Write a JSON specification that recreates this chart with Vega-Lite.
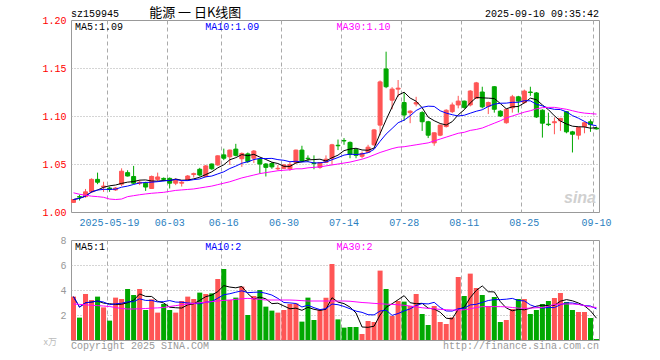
{
  "$schema": "https://vega.github.io/schema/vega-lite/v6.json",
  "autosize": {"type": "pad"},
  "padding": {"left": 41, "top": 6, "right": 5, "bottom": 5},
  "background": "white",
  "config": {
    "font": "Liberation Mono",
    "view": {"stroke": "#999999", "strokeWidth": 1},
    "axis": {"labelFont": "Liberation Mono", "labelFontSize": 10, "labelOverlap": false},
    "text": {"font": "Liberation Mono", "fontSize": 10}
  },
  "data": {"values": [
    {"d":"2025-05-09","o":1.010,"h":1.0135,"l":1.0095,"c":1.013,"v":3.47,"ma30":1.020,"vma30":2.88},
    {"d":"2025-05-12","o":1.016,"h":1.018,"l":1.012,"c":1.0155,"v":1.79,"ma30":1.0185,"vma30":2.85},
    {"d":"2025-05-13","o":1.016,"h":1.024,"l":1.015,"c":1.021,"v":3.68,"ma30":1.0175,"vma30":2.82},
    {"d":"2025-05-14","o":1.021,"h":1.035,"l":1.020,"c":1.034,"v":3.2,"ma30":1.0165,"vma30":2.78},
    {"d":"2025-05-15","o":1.034,"h":1.041,"l":1.029,"c":1.031,"v":3.47,"ma30":1.016,"vma30":2.75},
    {"d":"2025-05-16","o":1.026,"h":1.0315,"l":1.021,"c":1.027,"v":2.61,"ma30":1.0153,"vma30":2.72},
    {"d":"2025-05-19","o":1.025,"h":1.0265,"l":1.021,"c":1.0235,"v":1.55,"ma30":1.0135,"vma30":2.68},
    {"d":"2025-05-20","o":1.023,"h":1.026,"l":1.022,"c":1.025,"v":3.39,"ma30":1.013,"vma30":2.6},
    {"d":"2025-05-21","o":1.029,"h":1.0455,"l":1.027,"c":1.0425,"v":3.28,"ma30":1.0135,"vma30":2.52},
    {"d":"2025-05-22","o":1.041,"h":1.0435,"l":1.037,"c":1.0375,"v":4.08,"ma30":1.016,"vma30":2.48},
    {"d":"2025-05-23","o":1.037,"h":1.048,"l":1.029,"c":1.030,"v":3.6,"ma30":1.017,"vma30":2.48},
    {"d":"2025-05-26","o":1.030,"h":1.033,"l":1.028,"c":1.031,"v":4.08,"ma30":1.018,"vma30":2.5},
    {"d":"2025-05-27","o":1.030,"h":1.0315,"l":1.022,"c":1.026,"v":2.4,"ma30":1.0188,"vma30":2.52},
    {"d":"2025-05-28","o":1.0245,"h":1.038,"l":1.024,"c":1.037,"v":3.25,"ma30":1.0195,"vma30":2.55},
    {"d":"2025-05-29","o":1.034,"h":1.041,"l":1.032,"c":1.0365,"v":2.19,"ma30":1.020,"vma30":2.57},
    {"d":"2025-05-30","o":1.035,"h":1.036,"l":1.032,"c":1.034,"v":2.88,"ma30":1.0205,"vma30":2.6},
    {"d":"2025-06-03","o":1.035,"h":1.036,"l":1.0245,"c":1.030,"v":2.4,"ma30":1.0215,"vma30":2.68},
    {"d":"2025-06-04","o":1.030,"h":1.035,"l":1.028,"c":1.034,"v":2.19,"ma30":1.0225,"vma30":2.75},
    {"d":"2025-06-05","o":1.030,"h":1.0325,"l":1.0265,"c":1.031,"v":3.12,"ma30":1.023,"vma30":2.82},
    {"d":"2025-06-06","o":1.0335,"h":1.0385,"l":1.033,"c":1.0375,"v":3.47,"ma30":1.0235,"vma30":2.88},
    {"d":"2025-06-09","o":1.039,"h":1.041,"l":1.036,"c":1.040,"v":3.28,"ma30":1.024,"vma30":2.93},
    {"d":"2025-06-10","o":1.0445,"h":1.046,"l":1.037,"c":1.0385,"v":3.79,"ma30":1.025,"vma30":2.98},
    {"d":"2025-06-11","o":1.037,"h":1.049,"l":1.036,"c":1.048,"v":3.68,"ma30":1.026,"vma30":3.02},
    {"d":"2025-06-12","o":1.050,"h":1.0505,"l":1.044,"c":1.045,"v":3.73,"ma30":1.027,"vma30":3.07},
    {"d":"2025-06-13","o":1.049,"h":1.059,"l":1.048,"c":1.0585,"v":4.88,"ma30":1.0285,"vma30":3.12},
    {"d":"2025-06-16","o":1.0595,"h":1.066,"l":1.054,"c":1.056,"v":5.68,"ma30":1.030,"vma30":3.17},
    {"d":"2025-06-17","o":1.0575,"h":1.065,"l":1.049,"c":1.0645,"v":3.2,"ma30":1.0315,"vma30":3.2},
    {"d":"2025-06-18","o":1.0655,"h":1.071,"l":1.058,"c":1.059,"v":3.39,"ma30":1.0335,"vma30":3.25},
    {"d":"2025-06-19","o":1.0555,"h":1.062,"l":1.047,"c":1.061,"v":4.27,"ma30":1.0355,"vma30":3.3},
    {"d":"2025-06-20","o":1.0605,"h":1.062,"l":1.051,"c":1.0525,"v":2.0,"ma30":1.037,"vma30":3.33},
    {"d":"2025-06-23","o":1.056,"h":1.0645,"l":1.051,"c":1.0635,"v":3.52,"ma30":1.0385,"vma30":3.3},
    {"d":"2025-06-24","o":1.055,"h":1.056,"l":1.040,"c":1.050,"v":4.0,"ma30":1.040,"vma30":3.25},
    {"d":"2025-06-25","o":1.050,"h":1.051,"l":1.037,"c":1.0465,"v":2.67,"ma30":1.041,"vma30":3.2},
    {"d":"2025-06-26","o":1.0505,"h":1.052,"l":1.045,"c":1.047,"v":2.35,"ma30":1.042,"vma30":3.2},
    {"d":"2025-06-27","o":1.045,"h":1.049,"l":1.0435,"c":1.0455,"v":2.19,"ma30":1.043,"vma30":3.2},
    {"d":"2025-06-30","o":1.0455,"h":1.050,"l":1.045,"c":1.049,"v":2.4,"ma30":1.0435,"vma30":3.2},
    {"d":"2025-07-01","o":1.045,"h":1.0525,"l":1.043,"c":1.0495,"v":2.88,"ma30":1.044,"vma30":3.2},
    {"d":"2025-07-02","o":1.0515,"h":1.065,"l":1.050,"c":1.0645,"v":2.93,"ma30":1.045,"vma30":3.18},
    {"d":"2025-07-03","o":1.0645,"h":1.069,"l":1.052,"c":1.053,"v":1.47,"ma30":1.045,"vma30":3.15},
    {"d":"2025-07-04","o":1.056,"h":1.059,"l":1.052,"c":1.0555,"v":3.39,"ma30":1.046,"vma30":3.12},
    {"d":"2025-07-07","o":1.051,"h":1.059,"l":1.0445,"c":1.0505,"v":1.6,"ma30":1.0465,"vma30":3.12},
    {"d":"2025-07-08","o":1.0465,"h":1.052,"l":1.045,"c":1.0515,"v":2.45,"ma30":1.047,"vma30":3.12},
    {"d":"2025-07-09","o":1.0515,"h":1.059,"l":1.051,"c":1.055,"v":3.39,"ma30":1.048,"vma30":3.12},
    {"d":"2025-07-10","o":1.056,"h":1.071,"l":1.049,"c":1.070,"v":6.08,"ma30":1.049,"vma30":3.12},
    {"d":"2025-07-11","o":1.0695,"h":1.0755,"l":1.0645,"c":1.069,"v":1.65,"ma30":1.050,"vma30":3.12},
    {"d":"2025-07-14","o":1.0745,"h":1.077,"l":1.070,"c":1.074,"v":0.99,"ma30":1.051,"vma30":3.12},
    {"d":"2025-07-15","o":1.0725,"h":1.0735,"l":1.056,"c":1.060,"v":1.04,"ma30":1.052,"vma30":3.1},
    {"d":"2025-07-16","o":1.065,"h":1.066,"l":1.056,"c":1.059,"v":1.04,"ma30":1.0535,"vma30":3.05},
    {"d":"2025-07-17","o":1.058,"h":1.063,"l":1.056,"c":1.061,"v":0.48,"ma30":1.055,"vma30":3.0},
    {"d":"2025-07-18","o":1.062,"h":1.070,"l":1.0615,"c":1.0675,"v":1.52,"ma30":1.057,"vma30":2.97},
    {"d":"2025-07-21","o":1.070,"h":1.0865,"l":1.069,"c":1.0855,"v":1.44,"ma30":1.0595,"vma30":2.93},
    {"d":"2025-07-22","o":1.0905,"h":1.137,"l":1.080,"c":1.1355,"v":5.55,"ma30":1.062,"vma30":2.9},
    {"d":"2025-07-23","o":1.149,"h":1.167,"l":1.129,"c":1.1305,"v":4.08,"ma30":1.064,"vma30":2.87},
    {"d":"2025-07-24","o":1.1165,"h":1.130,"l":1.107,"c":1.128,"v":1.92,"ma30":1.066,"vma30":2.85},
    {"d":"2025-07-25","o":1.128,"h":1.1375,"l":1.120,"c":1.129,"v":3.12,"ma30":1.0675,"vma30":2.82},
    {"d":"2025-07-28","o":1.114,"h":1.124,"l":1.095,"c":1.101,"v":3.07,"ma30":1.068,"vma30":2.78},
    {"d":"2025-07-29","o":1.1035,"h":1.106,"l":1.0925,"c":1.105,"v":2.72,"ma30":1.069,"vma30":2.72},
    {"d":"2025-07-30","o":1.1125,"h":1.120,"l":1.110,"c":1.114,"v":3.68,"ma30":1.070,"vma30":2.65},
    {"d":"2025-07-31","o":1.1035,"h":1.105,"l":1.0845,"c":1.094,"v":2.08,"ma30":1.071,"vma30":2.58},
    {"d":"2025-08-01","o":1.094,"h":1.095,"l":1.077,"c":1.080,"v":1.2,"ma30":1.072,"vma30":2.53},
    {"d":"2025-08-04","o":1.072,"h":1.083,"l":1.069,"c":1.0825,"v":2.72,"ma30":1.074,"vma30":2.5},
    {"d":"2025-08-05","o":1.080,"h":1.091,"l":1.079,"c":1.0905,"v":1.44,"ma30":1.076,"vma30":2.45},
    {"d":"2025-08-06","o":1.089,"h":1.107,"l":1.088,"c":1.106,"v":1.28,"ma30":1.078,"vma30":2.42},
    {"d":"2025-08-07","o":1.1045,"h":1.114,"l":1.103,"c":1.1115,"v":1.81,"ma30":1.080,"vma30":2.4},
    {"d":"2025-08-08","o":1.1115,"h":1.121,"l":1.108,"c":1.1155,"v":5.04,"ma30":1.082,"vma30":2.4},
    {"d":"2025-08-11","o":1.1155,"h":1.116,"l":1.1075,"c":1.109,"v":3.52,"ma30":1.083,"vma30":2.42},
    {"d":"2025-08-12","o":1.1115,"h":1.127,"l":1.110,"c":1.126,"v":5.31,"ma30":1.085,"vma30":2.5},
    {"d":"2025-08-13","o":1.1185,"h":1.1355,"l":1.118,"c":1.1345,"v":4.16,"ma30":1.086,"vma30":2.6},
    {"d":"2025-08-14","o":1.125,"h":1.1305,"l":1.108,"c":1.1095,"v":3.6,"ma30":1.0875,"vma30":2.67},
    {"d":"2025-08-15","o":1.110,"h":1.115,"l":1.102,"c":1.114,"v":2.72,"ma30":1.090,"vma30":2.67},
    {"d":"2025-08-18","o":1.1305,"h":1.131,"l":1.1035,"c":1.107,"v":3.44,"ma30":1.0925,"vma30":2.67},
    {"d":"2025-08-19","o":1.105,"h":1.106,"l":1.099,"c":1.100,"v":1.44,"ma30":1.095,"vma30":2.67},
    {"d":"2025-08-20","o":1.093,"h":1.108,"l":1.092,"c":1.107,"v":1.6,"ma30":1.098,"vma30":2.65},
    {"d":"2025-08-21","o":1.1085,"h":1.122,"l":1.1035,"c":1.120,"v":2.48,"ma30":1.100,"vma30":2.6},
    {"d":"2025-08-22","o":1.120,"h":1.121,"l":1.1035,"c":1.1155,"v":3.28,"ma30":1.102,"vma30":2.55},
    {"d":"2025-08-25","o":1.114,"h":1.1275,"l":1.113,"c":1.126,"v":3.28,"ma30":1.104,"vma30":2.53},
    {"d":"2025-08-26","o":1.125,"h":1.1305,"l":1.121,"c":1.1245,"v":2.08,"ma30":1.1055,"vma30":2.55},
    {"d":"2025-08-27","o":1.124,"h":1.125,"l":1.098,"c":1.099,"v":2.4,"ma30":1.1075,"vma30":2.58},
    {"d":"2025-08-28","o":1.106,"h":1.107,"l":1.0775,"c":1.0925,"v":2.88,"ma30":1.1087,"vma30":2.6},
    {"d":"2025-08-29","o":1.0915,"h":1.1035,"l":1.0895,"c":1.091,"v":3.12,"ma30":1.109,"vma30":2.7},
    {"d":"2025-09-01","o":1.093,"h":1.0985,"l":1.081,"c":1.094,"v":3.36,"ma30":1.109,"vma30":2.85},
    {"d":"2025-09-02","o":1.095,"h":1.098,"l":1.0845,"c":1.0975,"v":3.76,"ma30":1.108,"vma30":2.88},
    {"d":"2025-09-03","o":1.1045,"h":1.105,"l":1.082,"c":1.0835,"v":3.04,"ma30":1.107,"vma30":2.88},
    {"d":"2025-09-04","o":1.0835,"h":1.0845,"l":1.062,"c":1.081,"v":2.4,"ma30":1.1055,"vma30":2.88},
    {"d":"2025-09-05","o":1.080,"h":1.089,"l":1.0755,"c":1.088,"v":2.24,"ma30":1.104,"vma30":2.85},
    {"d":"2025-09-08","o":1.089,"h":1.094,"l":1.082,"c":1.093,"v":2.24,"ma30":1.103,"vma30":2.75},
    {"d":"2025-09-09","o":1.094,"h":1.0965,"l":1.0835,"c":1.091,"v":1.76,"ma30":1.1025,"vma30":2.65},
    {"d":"2025-09-10","o":1.0875,"h":1.089,"l":1.086,"c":1.0865,"v":0.08,"ma30":1.102,"vma30":2.6}
  ]},
  "transform": [
    {"window": [{"op": "mean", "field": "c", "as": "ma5"}, {"op": "mean", "field": "v", "as": "vma5"}], "frame": [-4, 0], "sort": [{"field": "d"}]},
    {"window": [{"op": "mean", "field": "c", "as": "ma10"}, {"op": "mean", "field": "v", "as": "vma10"}], "frame": [-9, 0], "sort": [{"field": "d"}]}
  ],
  "spacing": 28,
  "bounds": "flush",
  "vconcat": [
    {
      "width": 528,
      "height": 192,
      "encoding": {
        "x": {
          "field": "d", "type": "ordinal",
          "scale": {"paddingInner": 0.1667, "paddingOuter": 0},
          "axis": {
            "values": ["2025-05-19","2025-06-03","2025-06-16","2025-06-30","2025-07-14","2025-07-28","2025-08-11","2025-08-25","2025-09-10"],
            "labelExpr": "datum.value == '2025-05-19' ? datum.value : substring(datum.value, 5, 10)",
            "bandPosition": 0, "grid": true, "gridDash": [4, 3], "gridColor": "#aaaaaa",
            "ticks": false, "domain": false, "labelAngle": 0, "labelColor": "#2a80c0",
            "labelPadding": 5, "title": null
          }
        }
      },
      "layer": [
        {
          "mark": {"type": "rule", "strokeWidth": 1},
          "encoding": {
            "y": {
              "field": "l", "type": "quantitative",
              "scale": {"domain": [1, 1.2], "nice": false, "zero": false},
              "axis": {
                "values": [1, 1.05, 1.1, 1.15, 1.2], "format": ".2f", "labelColor": "#ff0000",
                "grid": true, "gridDash": [1, 2], "gridColor": "#aaaaaa",
                "gridOpacity": {"condition": {"test": "datum.value <= 1.001 || datum.value >= 1.199", "value": 0}, "value": 1},
                "ticks": false, "domain": false, "title": null, "labelPadding": 5, "labelOverlap": false
              }
            },
            "y2": {"field": "h"},
            "color": {"condition": {"test": "datum.c >= datum.o", "value": "#ff5555"}, "value": "#00a800"}
          }
        },
        {
          "mark": {"type": "bar", "width": {"band": 0.8}, "strokeWidth": 1},
          "encoding": {
            "y": {"field": "o", "type": "quantitative"},
            "y2": {"field": "c"},
            "color": {"condition": {"test": "datum.c >= datum.o", "value": "#ff5555"}, "value": "#00a800"},
            "stroke": {"condition": {"test": "datum.c >= datum.o", "value": "#ff5555"}, "value": "#00a800"}
          }
        },
        {"mark": {"type": "line", "color": "#000000", "strokeWidth": 1}, "encoding": {"y": {"field": "ma5", "type": "quantitative"}}},
        {"mark": {"type": "line", "color": "#0000ff", "strokeWidth": 1}, "encoding": {"y": {"field": "ma10", "type": "quantitative"}}},
        {"mark": {"type": "line", "color": "#ff00ff", "strokeWidth": 1}, "encoding": {"y": {"field": "ma30", "type": "quantitative"}}},
        {
          "data": {"values": [{"t": "MA5:1.09"}]},
          "mark": {"type": "text", "align": "left", "baseline": "alphabetic", "dx": 4, "color": "#000000"},
          "encoding": {"x": {"datum": "2025-05-09", "type": "ordinal", "bandPosition": 0}, "y": {"datum": 1.1901, "type": "quantitative"}, "text": {"field": "t"}}
        },
        {
          "data": {"values": [{"t": "MA10:1.09"}]},
          "mark": {"type": "text", "align": "left", "baseline": "alphabetic", "dx": 2, "color": "#0000ff"},
          "encoding": {"x": {"datum": "2025-06-11", "type": "ordinal", "bandPosition": 0}, "y": {"datum": 1.1901, "type": "quantitative"}, "text": {"field": "t"}}
        },
        {
          "data": {"values": [{"t": "MA30:1.10"}]},
          "mark": {"type": "text", "align": "left", "baseline": "alphabetic", "dx": 1, "color": "#ff00ff"},
          "encoding": {"x": {"datum": "2025-07-11", "type": "ordinal", "bandPosition": 0}, "y": {"datum": 1.1901, "type": "quantitative"}, "text": {"field": "t"}}
        },
        {
          "data": {"values": [{"t": "sz159945"}]},
          "mark": {"type": "text", "align": "left", "baseline": "alphabetic", "color": "#000000"},
          "encoding": {"x": {"datum": "2025-05-09", "type": "ordinal", "bandPosition": 0}, "y": {"datum": 1.2036, "type": "quantitative"}, "text": {"field": "t"}}
        },
        {
          "data": {"values": [{"t": "能源 一 日K线图"}]},
          "mark": {"type": "text", "align": "left", "baseline": "middle", "font": "Noto Sans CJK SC", "fontSize": 13, "color": "#000000"},
          "encoding": {"x": {"datum": "2025-05-28", "type": "ordinal", "bandPosition": 0}, "y": {"datum": 1.2075, "type": "quantitative"}, "text": {"field": "t"}}
        },
        {
          "data": {"values": [{"t": "2025-09-10 09:35:42"}]},
          "mark": {"type": "text", "align": "right", "baseline": "alphabetic", "color": "#000000"},
          "encoding": {"x": {"datum": "2025-09-10", "type": "ordinal", "bandPosition": 1}, "y": {"datum": 1.2036, "type": "quantitative"}, "text": {"field": "t"}}
        },
        {
          "data": {"values": [{"t": "sina"}]},
          "mark": {"type": "text", "align": "right", "baseline": "alphabetic", "font": "Liberation Sans", "fontSize": 16, "fontWeight": "bold", "fontStyle": "italic", "dx": -3, "color": "#d0d0d0"},
          "encoding": {"x": {"datum": "2025-09-10", "type": "ordinal", "bandPosition": 1}, "y": {"datum": 1.0094, "type": "quantitative"}, "text": {"field": "t"}}
        }
      ]
    },
    {
      "width": 528,
      "height": 100,
      "encoding": {
        "x": {
          "field": "d", "type": "ordinal",
          "scale": {"paddingInner": 0.1667, "paddingOuter": 0},
          "axis": {
            "values": ["2025-05-19","2025-06-03","2025-06-16","2025-06-30","2025-07-14","2025-07-28","2025-08-11","2025-08-25","2025-09-10"],
            "bandPosition": 0, "grid": true, "gridDash": [4, 3], "gridColor": "#aaaaaa",
            "labels": false, "ticks": false, "domain": false, "title": null
          }
        }
      },
      "layer": [
        {
          "mark": {"type": "bar"},
          "encoding": {
            "y": {
              "field": "v", "type": "quantitative",
              "scale": {"domain": [0, 8], "nice": false},
              "axis": {
                "tickCount": 4, "labelExpr": "datum.value == 0 ? '' : datum.label", "labelColor": "#999999",
                "grid": true, "gridDash": [1, 2], "gridColor": "#aaaaaa",
                "gridOpacity": {"condition": {"test": "datum.value >= 7.9 || datum.value <= 0.1", "value": 0}, "value": 1},
                "ticks": false, "domain": false, "title": null, "labelPadding": 5,
                "labelOverlap": false, "labelBound": false, "labelFlush": false
              }
            },
            "color": {"condition": {"test": "datum.c >= datum.o", "value": "#ff5555"}, "value": "#00a800"}
          }
        },
        {"mark": {"type": "line", "color": "#000000", "strokeWidth": 1}, "encoding": {"y": {"field": "vma5", "type": "quantitative"}}},
        {"mark": {"type": "line", "color": "#0000ff", "strokeWidth": 1}, "encoding": {"y": {"field": "vma10", "type": "quantitative"}}},
        {"mark": {"type": "line", "color": "#ff00ff", "strokeWidth": 1}, "encoding": {"y": {"field": "vma30", "type": "quantitative"}}},
        {
          "data": {"values": [{"t": "MA5:1"}]},
          "mark": {"type": "text", "align": "left", "baseline": "alphabetic", "dx": 4, "color": "#000000"},
          "encoding": {"x": {"datum": "2025-05-09", "type": "ordinal", "bandPosition": 0}, "y": {"datum": 7.24, "type": "quantitative"}, "text": {"field": "t"}}
        },
        {
          "data": {"values": [{"t": "MA10:2"}]},
          "mark": {"type": "text", "align": "left", "baseline": "alphabetic", "dx": 2, "color": "#0000ff"},
          "encoding": {"x": {"datum": "2025-06-11", "type": "ordinal", "bandPosition": 0}, "y": {"datum": 7.24, "type": "quantitative"}, "text": {"field": "t"}}
        },
        {
          "data": {"values": [{"t": "MA30:2"}]},
          "mark": {"type": "text", "align": "left", "baseline": "alphabetic", "dx": 1, "color": "#ff00ff"},
          "encoding": {"x": {"datum": "2025-07-11", "type": "ordinal", "bandPosition": 0}, "y": {"datum": 7.24, "type": "quantitative"}, "text": {"field": "t"}}
        },
        {
          "data": {"values": [{"t": "x万"}]},
          "mark": {"type": "text", "align": "right", "baseline": "middle", "font": "Noto Sans CJK SC", "fontSize": 9, "dx": -14, "color": "#bbbbbb"},
          "encoding": {"x": {"datum": "2025-05-09", "type": "ordinal", "bandPosition": 0}, "y": {"datum": -0.16, "type": "quantitative"}, "text": {"field": "t"}}
        },
        {
          "data": {"values": [{"t": "Copyright 2025 SINA.COM"}]},
          "mark": {"type": "text", "align": "left", "baseline": "alphabetic", "color": "#999999"},
          "encoding": {"x": {"datum": "2025-05-09", "type": "ordinal", "bandPosition": 0}, "y": {"datum": -0.72, "type": "quantitative"}, "text": {"field": "t"}}
        },
        {
          "data": {"values": [{"t": "http://finance.sina.com.cn"}]},
          "mark": {"type": "text", "align": "right", "baseline": "alphabetic", "color": "#999999"},
          "encoding": {"x": {"datum": "2025-09-10", "type": "ordinal", "bandPosition": 1}, "y": {"datum": -0.72, "type": "quantitative"}, "text": {"field": "t"}}
        }
      ]
    }
  ]
}
